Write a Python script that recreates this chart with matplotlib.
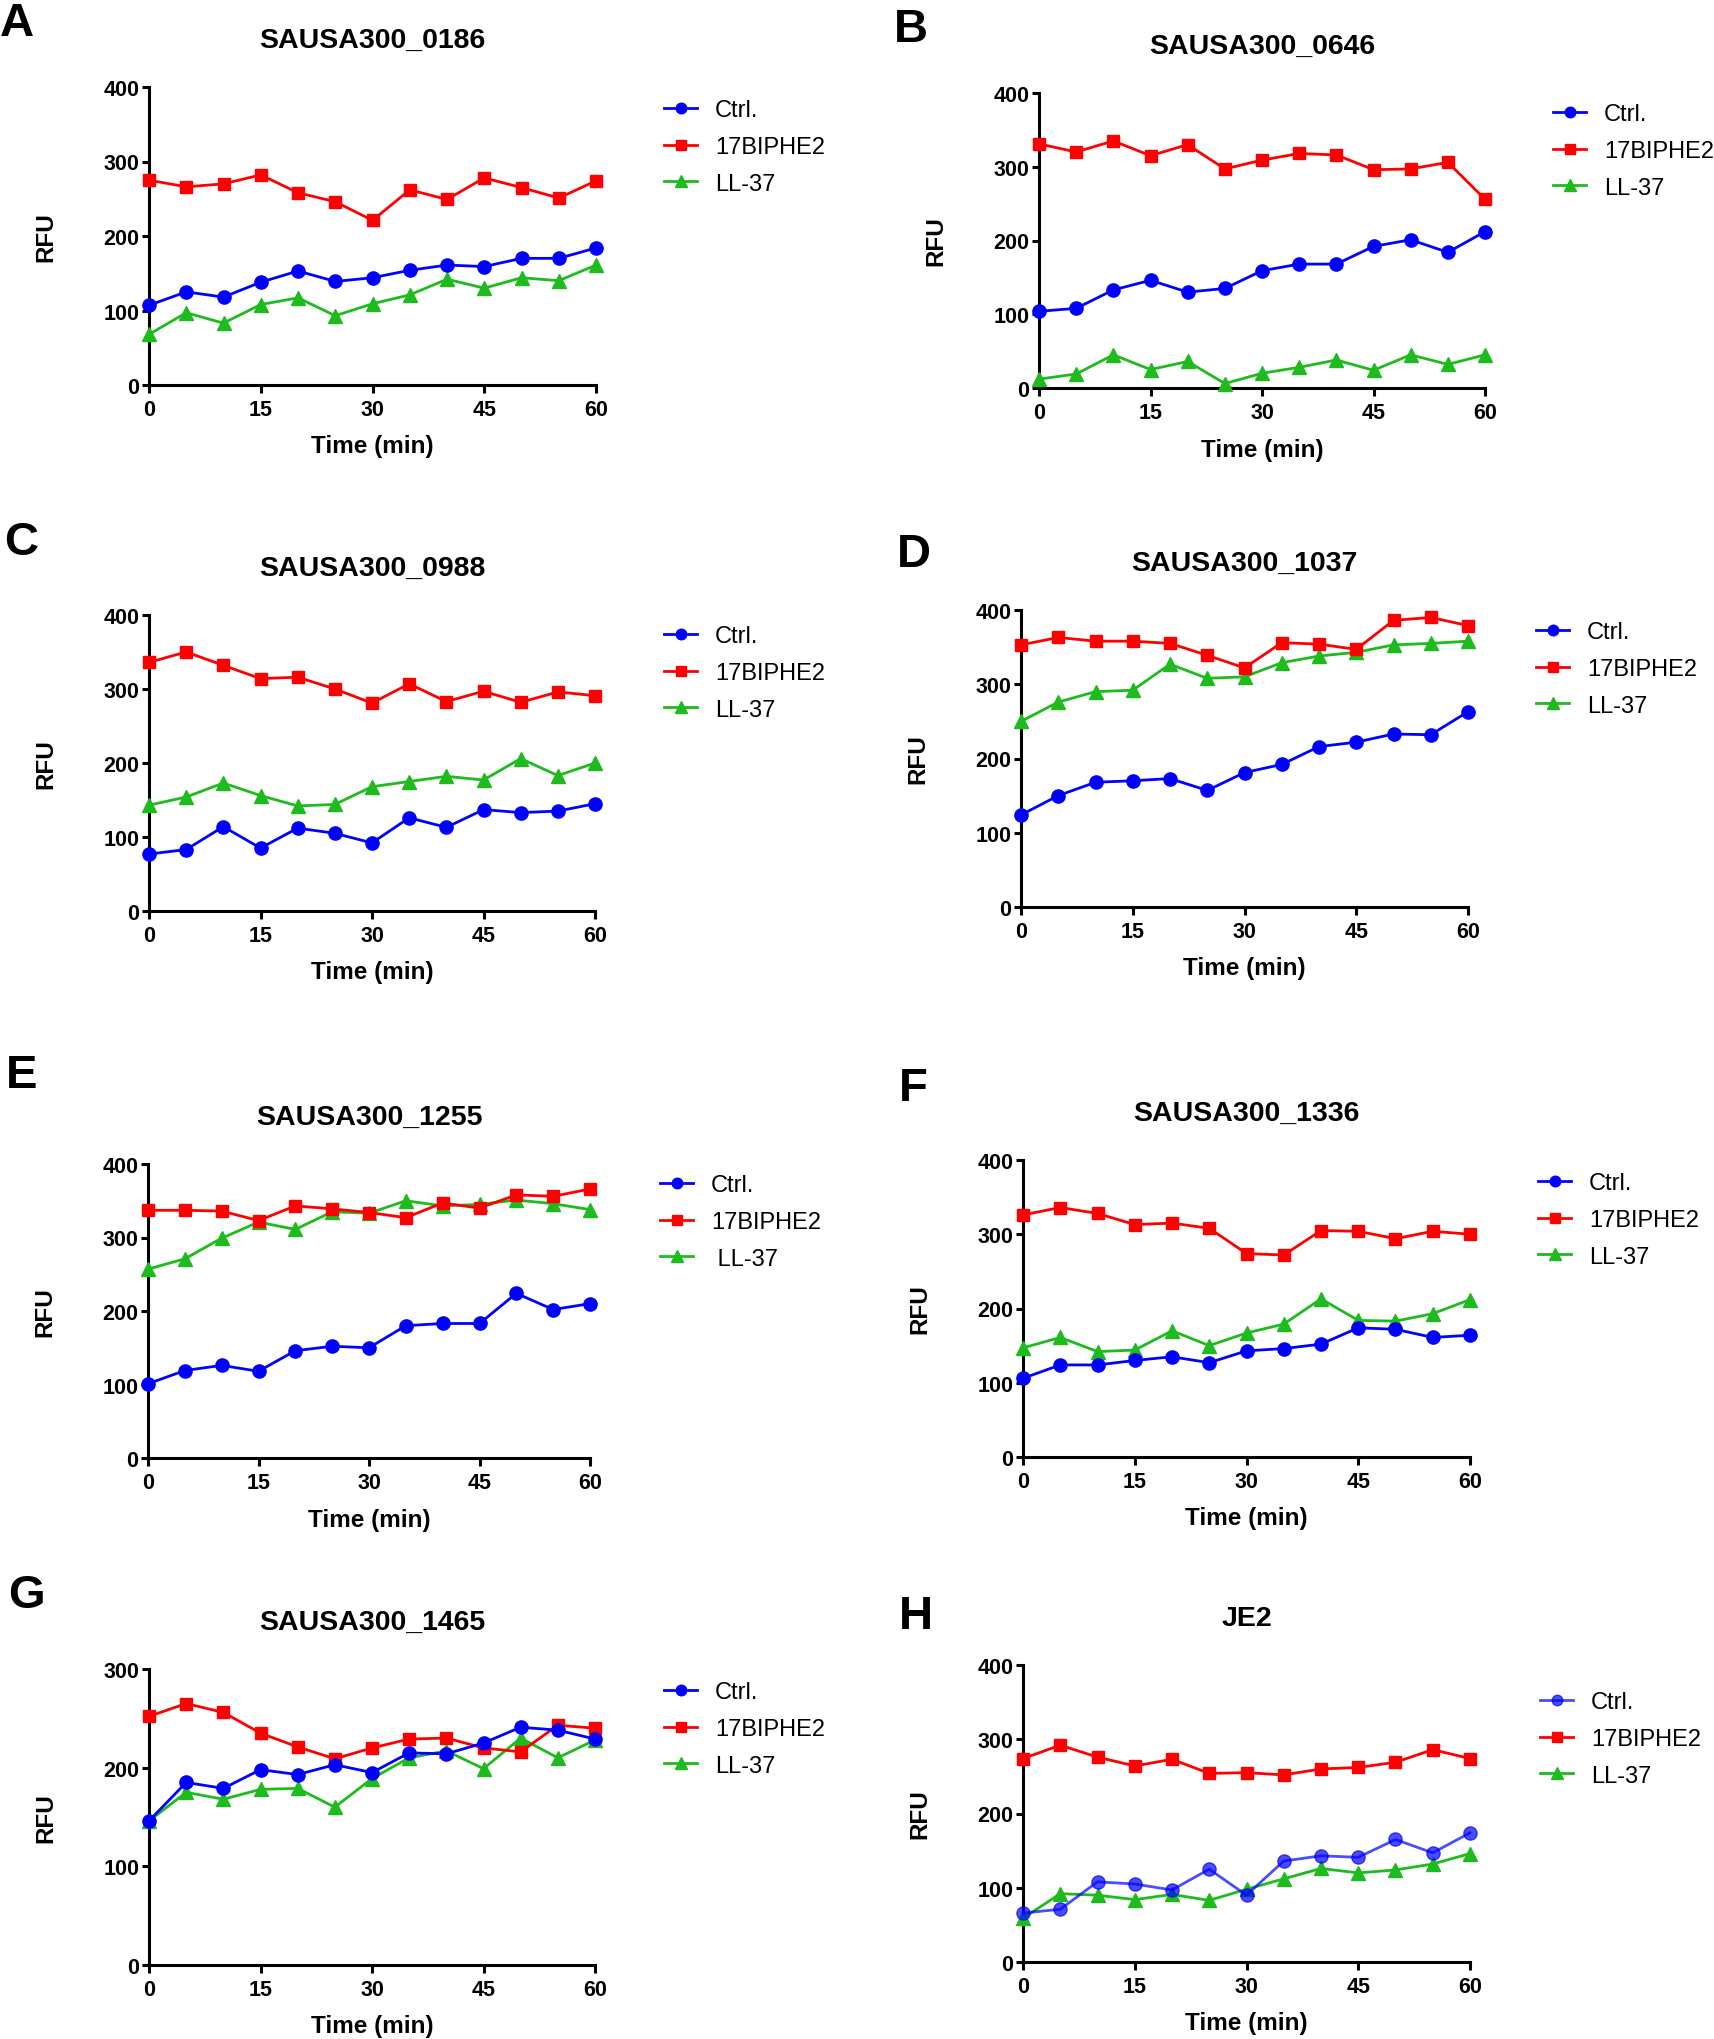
import matplotlib
matplotlib.use("Agg")
import matplotlib.pyplot as plt

plt.rcParams['font.family'] = ['Liberation Sans', 'DejaVu Sans']

W, H = 1714, 2040

time = [0, 5, 10, 15, 20, 25, 30, 35, 40, 45, 50, 55, 60]
series_names = ["Ctrl.", "17BIPHE2", "LL-37"]
x_ticks = [0, 15, 30, 45, 60]

titles = ["SAUSA300_0186", "SAUSA300_0646", "SAUSA300_0988", "SAUSA300_1037",
          "SAUSA300_1255", "SAUSA300_1336", "SAUSA300_1465", "JE2"]
letters = ["A", "B", "C", "D", "E", "F", "G", "H"]
y_max = [400, 400, 400, 400, 400, 400, 300, 400]

ctrl_A = [107, 125, 118, 138, 153, 139, 144, 154, 161, 159, 170, 170, 184]
bip_A = [275, 266, 270, 282, 258, 246, 221, 262, 249, 278, 265, 251, 274]
ll_A = [68, 97, 83, 108, 117, 93, 109, 121, 142, 130, 144, 140, 161]

ctrl_B = [104, 108, 133, 146, 130, 135, 159, 168, 168, 192, 201, 184, 212]
bip_B = [331, 320, 335, 315, 330, 297, 309, 318, 316, 296, 297, 306, 256]
ll_B = [12, 19, 45, 25, 36, 6, 20, 28, 38, 24, 45, 32, 45]

ctrl_C = [77, 83, 114, 85, 112, 105, 92, 126, 113, 137, 133, 135, 145]
bip_C = [336, 350, 332, 314, 316, 300, 281, 307, 283, 297, 282, 296, 291]
ll_C = [143, 154, 173, 156, 142, 144, 168, 175, 182, 177, 206, 183, 200]

ctrl_D = [124, 150, 168, 170, 173, 157, 181, 192, 216, 222, 233, 232, 263]
bip_D = [353, 363, 358, 358, 355, 339, 322, 356, 354, 347, 386, 390, 379]
ll_D = [250, 276, 290, 292, 327, 308, 310, 329, 338, 343, 353, 355, 358]

ctrl_E = [101, 119, 126, 118, 146, 152, 150, 180, 183, 183, 224, 202, 210]
bip_E = [337, 337, 336, 323, 343, 339, 334, 327, 347, 340, 358, 356, 366]
ll_E = [257, 271, 299, 321, 311, 335, 333, 350, 343, 345, 351, 346, 338]

ctrl_F = [106, 124, 124, 130, 135, 127, 143, 146, 152, 174, 172, 161, 164]
bip_F = [326, 336, 328, 313, 315, 308, 274, 272, 305, 304, 294, 304, 300]
ll_F = [147, 161, 142, 144, 170, 150, 167, 179, 213, 184, 183, 193, 212]

ctrl_G = [146, 185, 179, 198, 193, 203, 195, 215, 214, 225, 241, 238, 229]
bip_G = [252, 265, 256, 235, 221, 209, 220, 229, 230, 220, 216, 243, 240]
ll_G = [146, 175, 168, 178, 179, 160, 189, 210, 217, 199, 230, 210, 228]

ctrl_H = [66, 71, 108, 105, 97, 125, 90, 136, 143, 141, 165, 147, 174]
bip_H = [274, 292, 276, 264, 273, 254, 255, 252, 260, 262, 269, 286, 274]
ll_H = [59, 92, 90, 84, 91, 83, 98, 112, 126, 120, 124, 132, 146]

ctrl_all = [ctrl_A, ctrl_B, ctrl_C, ctrl_D, ctrl_E, ctrl_F, ctrl_G, ctrl_H]
bip_all = [bip_A, bip_B, bip_C, bip_D, bip_E, bip_F, bip_G, bip_H]
ll_all = [ll_A, ll_B, ll_C, ll_D, ll_E, ll_F, ll_G, ll_H]

# layout (pixels): x0, x1, y_top, y_bottom
axes_px = [(149, 596, 88, 386), (1039, 1485, 94, 389),
           (149, 595, 616, 912), (1021, 1468, 611, 908),
           (148, 590, 1165, 1459), (1023, 1470, 1161, 1458),
           (149, 595, 1670, 1966), (1023, 1470, 1666, 1963)]
legend_px = [(664, 148), (1553, 152), (664, 674), (1536, 670),
             (660, 1223), (1538, 1221), (664, 1730), (1540, 1740)]
letter_px = [(0, 2), (894, 8), (4, 521), (897, 533),
             (6, 1054), (899, 1067), (8, 1574), (899, 1595)]

BLUE, RED, GREEN = '#0000FF', '#FF0000', '#1DBB1D'

fig = plt.figure(figsize=(W / 100, H / 100), dpi=100)

for i in range(8):
    x0, x1, yt, yb = axes_px[i]
    ax = fig.add_axes([x0 / W, 1 - yb / H, (x1 - x0) / W, (yb - yt) / H])
    blue_alpha = 0.7 if i == 7 else 1.0
    l3, = ax.plot(time, ll_all[i], color=GREEN, marker='^', markersize=10, lw=2, clip_on=False, zorder=3)
    l2, = ax.plot(time, bip_all[i], color=RED, marker='s', markersize=9, lw=2, clip_on=False, zorder=4)
    l1, = ax.plot(time, ctrl_all[i], color=BLUE, marker='o', markersize=9.5, lw=2, clip_on=False,
                  zorder=5, alpha=blue_alpha)
    ax.set_xlim(0, 60)
    ax.set_ylim(0, y_max[i])
    ax.set_xticks(x_ticks)
    ax.set_yticks(list(range(0, y_max[i] + 1, 100)))
    for s in ['top', 'right']:
        ax.spines[s].set_visible(False)
    for s in ['left', 'bottom']:
        ax.spines[s].set_linewidth(2.2)
    ax.tick_params(axis='both', direction='out', width=2.2, labelsize=15.5)
    ax.tick_params(axis='x', length=6, pad=4)
    ax.tick_params(axis='y', length=5, pad=2)
    for lab in ax.get_xticklabels() + ax.get_yticklabels():
        lab.set_fontweight('bold')
    ax.set_xlabel("Time (min)", fontsize=17.5, fontweight='bold')
    ax.set_ylabel("RFU", fontsize=17.5, fontweight='bold')
    ax.xaxis.label.set_va('center')
    ax.yaxis.label.set_va('center')
    hpx, wpx = yb - yt, x1 - x0
    ax.xaxis.set_label_coords(0.5, -61 / hpx)
    ax.yaxis.set_label_coords(-103 / wpx, 0.5)
    ax.text(0.5, 1 + 47 / hpx, titles[i], transform=ax.transAxes,
            ha='center', va='center', fontsize=20.5, fontweight='bold')
    labels = list(series_names)
    if i == 4:
        labels[2] = " LL-37"
    lx, ly = legend_px[i]
    ax.legend([l1, l2, l3], labels, loc='center left',
              bbox_to_anchor=(lx / W, 1 - ly / H), bbox_transform=fig.transFigure,
              frameon=False, fontsize=17, handlelength=1.4, handletextpad=0.75,
              labelspacing=0.62, borderpad=0, borderaxespad=0, markerscale=0.8)
    fx, fy = letter_px[i]
    fig.text(fx / W, 1 - fy / H, letters[i], ha='left', va='top', fontsize=34, fontweight='bold')

fig.savefig("out.png", dpi=100, facecolor='white')
